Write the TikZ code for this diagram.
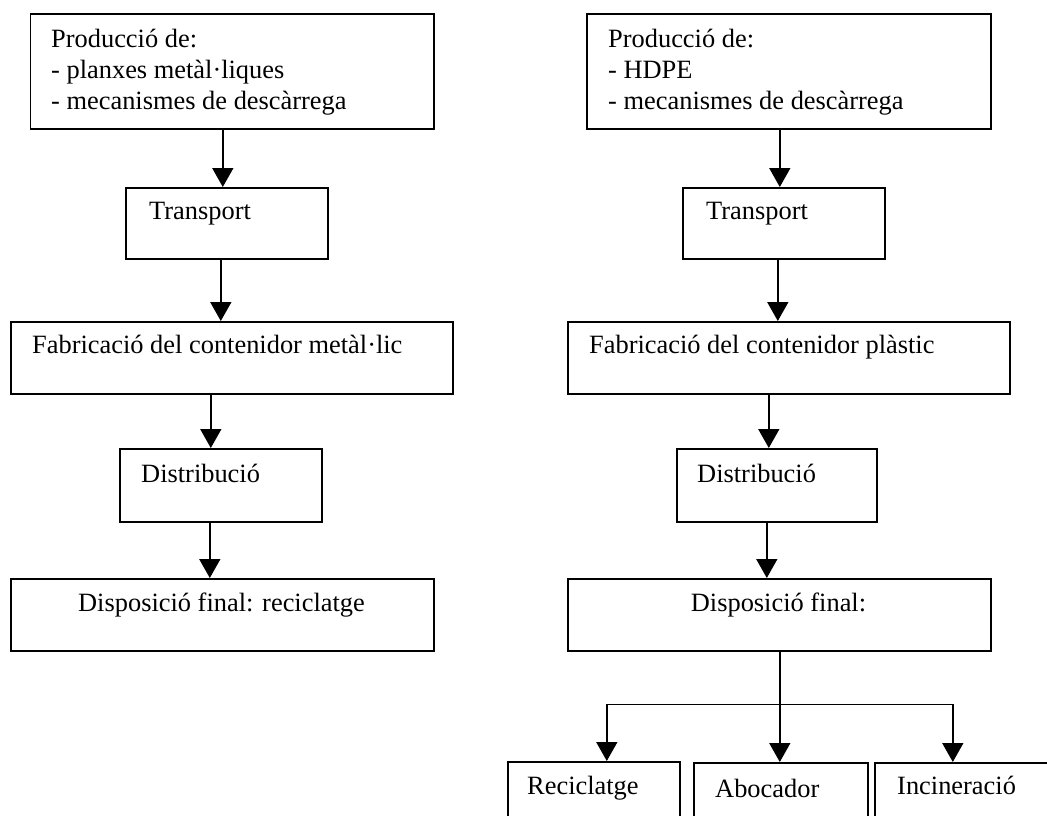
\documentclass[tikz,border=0pt]{standalone}
\usepackage{fontspec}
\setmainfont{Liberation Serif}
\usetikzlibrary{arrows.meta,calc}
\tikzset{
  box/.style={draw, line width=1.6pt, rectangle, inner sep=0pt, anchor=north west},
  lbl/.style={anchor=base west, inner sep=0pt, font=\fontsize{26.4}{31}\selectfont},
  clbl/.style={anchor=base, inner sep=0pt, font=\fontsize{26.4}{31}\selectfont},
  flow/.style={line width=1.6pt, -{Triangle[width=21pt,length=19pt]}},
}
\begin{document}
\begin{tikzpicture}[x=1pt, y=-1pt]
\path[use as bounding box] (0,0) rectangle (1047,815);
\clip (0,0) rectangle (1047,815);

% left chain: metal container
\node[box, minimum width=403.5pt, minimum height=115pt] (L1) at (29.5,13) {};
\node[box, minimum width=202pt, minimum height=71pt] (L2) at (125,187) {};
\node[box, minimum width=442pt, minimum height=72pt] (L3) at (10,321) {};
\node[box, minimum width=202pt, minimum height=73pt] (L4) at (119,448) {};
\node[box, minimum width=423pt, minimum height=72pt] (L5) at (10,578) {};

\node[lbl] (L1t) at (51,47) {\begin{tabular}[t]{@{}l@{}}Producció de:\\- planxes metàl·liques\\- mecanismes de descàrrega\end{tabular}};
\node[lbl] (L2t) at (149,219) {Transport};
\node[lbl] (L3t) at (32,353) {Fabricació del contenidor metàl·lic};
\node[lbl] (L4t) at (141,482) {Distribució};
\node[clbl] (L5t) at (221.5,611) {Disposició final: reciclatge};

\draw[flow] ([xshift=-9.25pt]L1.south) -- ([xshift=-9.25pt]L1.south |- L2.north);
\draw[flow] ([xshift=-6pt]L2.south) -- ([xshift=-6pt]L2.south |- L3.north);
\draw[flow] ([xshift=-21pt]L3.south) -- ([xshift=-21pt]L3.south |- L4.north);
\draw[flow] ([xshift=-11pt]L4.south) -- ([xshift=-11pt]L4.south |- L5.north);

% right chain: plastic container
\node[box, minimum width=404pt, minimum height=115pt] (R1) at (586,13) {};
\node[box, minimum width=202pt, minimum height=71pt] (R2) at (682,187) {};
\node[box, minimum width=442pt, minimum height=72pt] (R3) at (567,321) {};
\node[box, minimum width=200pt, minimum height=73pt] (R4) at (676,448) {};
\node[box, minimum width=423pt, minimum height=72pt] (R5) at (567,578) {};

\node[lbl] (R1t) at (608,47) {\begin{tabular}[t]{@{}l@{}}Producció de:\\- HDPE\\- mecanismes de descàrrega\end{tabular}};
\node[lbl] (R2t) at (706,219) {Transport};
\node[lbl] (R3t) at (589,353) {Fabricació del contenidor plàstic};
\node[lbl] (R4t) at (697,482) {Distribució};
\node[clbl] (R5t) at (778.5,611) {Disposició final:};

\draw[flow] ([xshift=-9pt]R1.south) -- ([xshift=-9pt]R1.south |- R2.north);
\draw[flow] ([xshift=-6pt]R2.south) -- ([xshift=-6pt]R2.south |- R3.north);
\draw[flow] ([xshift=-20pt]R3.south) -- ([xshift=-20pt]R3.south |- R4.north);
\draw[flow] ([xshift=-10pt]R4.south) -- ([xshift=-10pt]R4.south |- R5.north);

% final disposal options
\node[box, minimum width=172pt, minimum height=80pt] (Rec) at (507,761) {};
\node[box, minimum width=174pt, minimum height=80pt] (Abo) at (693,762) {};
\node[box, minimum width=180pt, minimum height=80pt] (Inc) at (874,762) {};

\node[lbl] (Rect) at (527,794) {Reciclatge};
\node[lbl] (Abot) at (715,797) {Abocador};
\node[lbl] (Inct) at (897,794) {Incineració};

\coordinate (drop) at ([xshift=0.5pt]R5.south);
\coordinate (fork) at ($(drop)+(0,53)$);
\draw[flow] (drop) -- (drop |- Abo.north);
\draw[flow] (fork) -| ([xshift=13pt]Rec.north);
\draw[flow] (fork) -| ([xshift=-12pt]Inc.north);
\end{tikzpicture}
\end{document}
